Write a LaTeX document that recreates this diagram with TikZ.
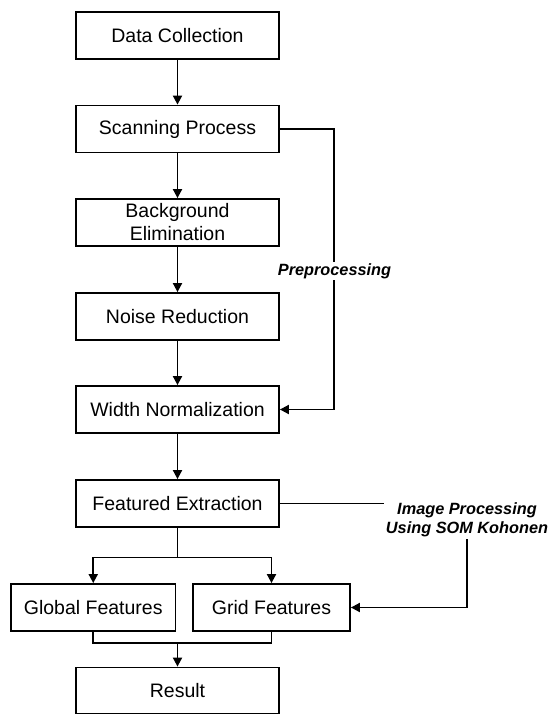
\documentclass[tikz,border=0pt]{standalone}
\usepackage{fontspec}
\setmainfont{Liberation Sans}
\usetikzlibrary{arrows.meta}
\begin{document}
\begin{tikzpicture}[x=1pt,y=-1pt,
  box/.style={draw, line width=1.8pt, minimum width=203pt, minimum height=47pt, inner sep=0pt, align=center, font=\fontsize{19.5}{23}\selectfont},
  lbl/.style={font=\fontsize{16.3}{19.3}\selectfont\bfseries\itshape, align=center, inner sep=2pt},
  line/.style={line width=1.8pt},
  arr/.style={line width=1.8pt, -{Triangle[length=9pt,width=9pt]}}]
\useasboundingbox (0,0) rectangle (550,715);
\node[box] (dc) at (177.5,35.5) {Data Collection};
\node[box] (scan) at (177.5,129) {Scanning Process};
\node[box] (bg) at (177.5,222.5) {Background\\Elimination};
\node[box] (nr) at (177.5,316.5) {Noise Reduction};
\node[box] (wn) at (177.5,409.5) {Width Normalization};
\node[box] (fe) at (177.5,503.5) {Featured Extraction};
\node[box, minimum width=164.5pt] (gl) at (93.25,607.5) {Global Features};
\node[box, minimum width=157pt] (gr) at (271.5,607.5) {Grid Features};
\node[box, minimum height=46pt] (res) at (177.5,690.5) {Result};
\draw[arr] (dc) -- (scan);
\draw[arr] (scan) -- (bg);
\draw[arr] (bg) -- (nr);
\draw[arr] (nr) -- (wn);
\draw[arr] (wn) -- (fe);
\coordinate (br) at (177.5,557.5);
\draw[line] (fe.south) -- (br);
\draw[arr] (br) -| (gl.north);
\draw[arr] (br) -| (gr.north);
\coordinate (jn) at (177.5,643);
\draw[line] (gl.south) |- (jn) -| (gr.south);
\draw[arr] (jn) -- (res.north);
\coordinate (pp) at (334,0);
\draw[arr] (scan.east) -- (scan.east -| pp) -- (pp |- wn.east) -- (wn.east);
\node[lbl, fill=white, inner sep=1pt] (ppl) at (334.5,271) {Preprocessing};
\node[lbl] (ip) at (467,520) {Image Processing\\Using SOM Kohonen};
\draw[line] (fe.east) -- (fe.east -| ip.west);
\draw[arr] (ip.south) |- (gr.east);
\end{tikzpicture}
\end{document}
